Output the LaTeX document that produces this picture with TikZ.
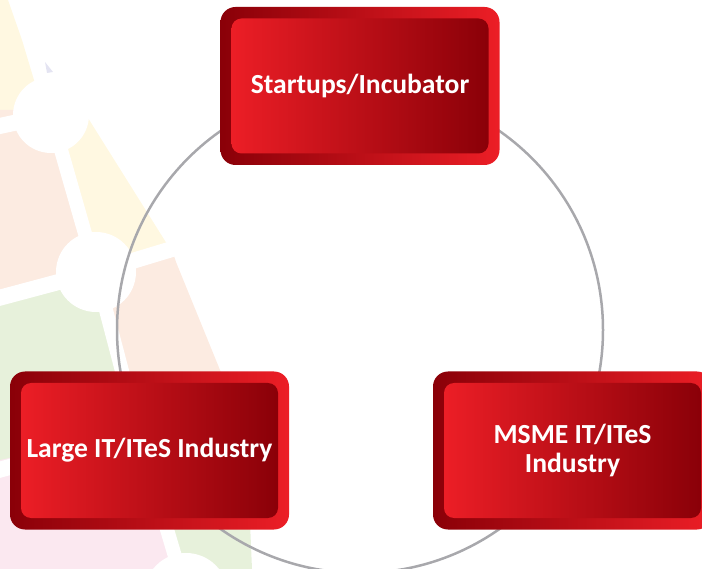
\documentclass[tikz,border=0pt]{standalone}
\usepackage{fontspec}
\setmainfont{Carlito}
\usepackage{tikz}
\usetikzlibrary{calc}
\definecolor{brightred}{RGB}{236,30,38}
\definecolor{darkred}{RGB}{138,0,8}
\definecolor{ringgray}{RGB}{168,168,172}
\definecolor{paleyellow}{RGB}{255,248,225}
\definecolor{palepeach}{RGB}{252,235,225}
\definecolor{palegreen}{RGB}{231,241,219}
\definecolor{palepink}{RGB}{251,232,240}
\definecolor{palelilac}{RGB}{228,228,242}
\tikzset{
	redframe/.style={rounded corners=15pt, left color=darkred, right color=brightred, minimum width=279pt, minimum height=158pt, inner sep=0pt},
	redbox/.style={rounded corners=10pt, left color=brightred, right color=darkred, minimum width=257pt, minimum height=135pt, inner sep=0pt, text=white, align=center, font=\bfseries\fontsize{27.6}{29}\selectfont},
	gap/.style={white, line width=16pt},
	ringline/.style={ringgray, line width=2.5pt}
}
\begin{document}
\begin{tikzpicture}[x=1pt,y=-1pt]
	\useasboundingbox (0,0) rectangle (702,569);
	% faded wheel behind
	\fill[paleyellow] (0,0) -- (8,0) -- (22,40) -- (40,100) -- (0,120) -- cycle;
	\fill[palepeach] (0,110) -- (60,110) -- (105,280) -- (0,305) -- cycle;
	\fill[palegreen] (0,290) -- (100,270) -- (145,440) -- (0,475) -- cycle;
	\fill[palepink] (0,460) -- (140,430) -- (200,600) -- (0,600) -- cycle;
	\fill[paleyellow] (55,110) -- (88,118) -- (172,252) -- (96,276) -- cycle;
	\fill[palepeach] (96,272) -- (172,250) -- (176,262) -- (220,370) -- (246,440) -- (140,440) -- cycle;
	\fill[palegreen] (138,432) -- (246,430) -- (252,569) -- (252,600) -- (185,600) -- cycle;
	\fill[palelilac] (45,62) -- (53,72) -- (47,73) -- cycle;
	\draw[gap] (51,115) -- (-5,127);
	\draw[gap, line width=14pt] (51,115) -- (96,272);
	\draw[gap] (96,272) -- (-5,299);
	\draw[gap] (96,272) -- (182,246);
	\draw[gap, line width=14pt] (96,272) -- (138,432) -- (188,600);
	\draw[gap] (138,432) -- (-5,471);
	\fill[white] (51,115) circle (38pt);
	\fill[white] (96,272) circle (40pt);
	\fill[white] (186,595) circle (42pt);
	% ring
	\coordinate (hub) at (360,330);
	\draw[ringline] (hub) circle (243pt);
	% boxes
	\node[redframe] (startF) at (360,86) {};
	\node[redbox] (start) at (startF) {Startups/Incubator};
	\node[redframe] (largeF) at (149.5,450.5) {};
	\node[redbox] (large) at (largeF) {Large IT/ITeS Industry};
	\node[redframe] (msmeF) at (572.5,450.5) {};
	\node[redbox] (msme) at (msmeF) {MSME IT/ITeS\\Industry};
\end{tikzpicture}
\end{document}
